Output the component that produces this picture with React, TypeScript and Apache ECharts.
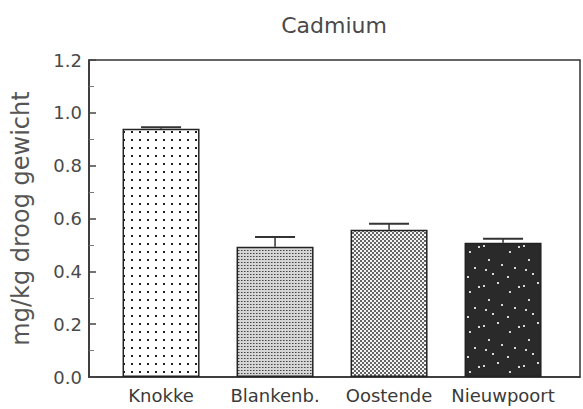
import React, { useEffect, useRef } from "react";
import * as echarts from "echarts";

const categories = ["Knokke", "Blankenb.", "Oostende", "Nieuwpoort"];
const means = [0.94, 0.493, 0.557, 0.508];
const errTops = [0.945, 0.53, 0.58, 0.523];
const yTicks = [0, 0.2, 0.4, 0.6, 0.8, 1.0, 1.2];

function makePattern(kind: number) {
  const c = document.createElement("canvas");
  let w = 8, h = 8;
  if (kind === 1) { w = 3; h = 3; }
  else if (kind === 2) { w = 4; h = 4; }
  else if (kind === 3) { w = 40; h = 40; }
  c.width = w; c.height = h;
  const ctx = c.getContext("2d")!;
  if (kind === 0) {
    ctx.fillStyle = "#ffffff"; ctx.fillRect(0, 0, w, h);
    ctx.fillStyle = "#222"; ctx.fillRect(3, 3, 2, 2);
  } else if (kind === 1) {
    ctx.fillStyle = "#d6d6d6"; ctx.fillRect(0, 0, w, h);
    ctx.fillStyle = "#444"; ctx.fillRect(1, 1, 1, 1);
    ctx.fillStyle = "#888"; ctx.fillRect(2, 1, 1, 1);
  } else if (kind === 2) {
    ctx.fillStyle = "#f4f4f4"; ctx.fillRect(0, 0, w, h);
    ctx.fillStyle = "#666"; ctx.fillRect(0, 0, 2, 2); ctx.fillRect(2, 2, 2, 2);
  } else {
    ctx.fillStyle = "#2a2a2a"; ctx.fillRect(0, 0, w, h);
    ctx.fillStyle = "#d8d8d8";
    const pts = [[3, 5], [17, 2], [29, 11], [8, 19], [34, 27], [21, 24], [12, 33], [27, 36], [38, 6], [5, 29]];
    pts.forEach(([x, y]) => ctx.fillRect(x, y, 2, 2));
  }
  return { image: c, repeat: "repeat", imageWidth: w, imageHeight: h } as any;
}

export default function App() {
  const ref = useRef<HTMLDivElement>(null);
  useEffect(() => {
    if (!ref.current) return;
    const chart = echarts.init(ref.current, null, { renderer: "svg" });
    const font = "DejaVu Sans, Verdana, sans-serif";
    chart.setOption({
      animation: false,
      title: {
        text: "Cadmium",
        left: 329,
        top: 9,
        textAlign: "center",
        textStyle: { fontFamily: font, fontSize: 22, fontWeight: "normal", color: "#4a4a4a" },
      },
      grid: {
        left: 89, right: 3, top: 60, bottom: 32,
        show: true, borderColor: "#333", borderWidth: 1.5, backgroundColor: "transparent",
      },
      xAxis: {
        type: "value",
        min: -0.632,
        max: 3.675,
        splitLine: { show: false },
        axisLine: { show: true, onZero: false, lineStyle: { color: "#333", width: 1.5 } },
        axisTick: { show: false },
        axisLabel: {
          customValues: [0, 1, 2, 3],
          formatter: (v: number) => categories[Math.round(v)] ?? "",
          fontFamily: font, fontSize: 18, color: "#3a3a3a", margin: 9,
        },
      },
      yAxis: {
        type: "value",
        min: 0, max: 1.2, interval: 0.2,
        name: "mg/kg droog gewicht",
        nameLocation: "middle",
        nameGap: 56,
        nameTextStyle: { fontFamily: font, fontSize: 24, color: "#555" },
        splitLine: { show: false },
        axisLine: { show: true, onZero: false, lineStyle: { color: "#333", width: 1.5 } },
        axisTick: { show: true, inside: true, length: 7, lineStyle: { color: "#444", width: 1.5 } },
        minorTick: { show: true, splitNumber: 2, length: 5, lineStyle: { color: "#777" } },
        axisLabel: {
          customValues: yTicks,
          formatter: (v: number) => v.toFixed(1),
          fontFamily: font, fontSize: 18, color: "#4a4a4a", margin: 7,
        },
      },
      series: [
        {
          type: "bar",
          barWidth: 77,
          data: means.map((m, i) => ({
            value: [i, m],
            itemStyle: { color: makePattern(i), borderColor: "#222", borderWidth: 1.5 },
          })),
        },
        {
          type: "custom",
          data: means.map((m, i) => [i, m, errTops[i]]),
          renderItem: (params: any, api: any) => {
            const x = api.value(0), lo = api.value(1), hi = api.value(2);
            const p1 = api.coord([x, lo]);
            const p2 = api.coord([x, hi]);
            const half = 20;
            return {
              type: "group",
              children: [
                { type: "line", shape: { x1: p1[0], y1: p1[1], x2: p2[0], y2: p2[1] }, style: { stroke: "#333", lineWidth: 1.5 } },
                { type: "line", shape: { x1: p2[0] - half, y1: p2[1], x2: p2[0] + half, y2: p2[1] }, style: { stroke: "#333", lineWidth: 2 } },
              ],
            };
          },
          z: 3,
        },
      ],
    });
    return () => chart.dispose();
  }, []);
  return <div ref={ref} style={{ position: "fixed", left: 0, top: 0, width: 583, height: 409, background: "#fff" }} />;
}
